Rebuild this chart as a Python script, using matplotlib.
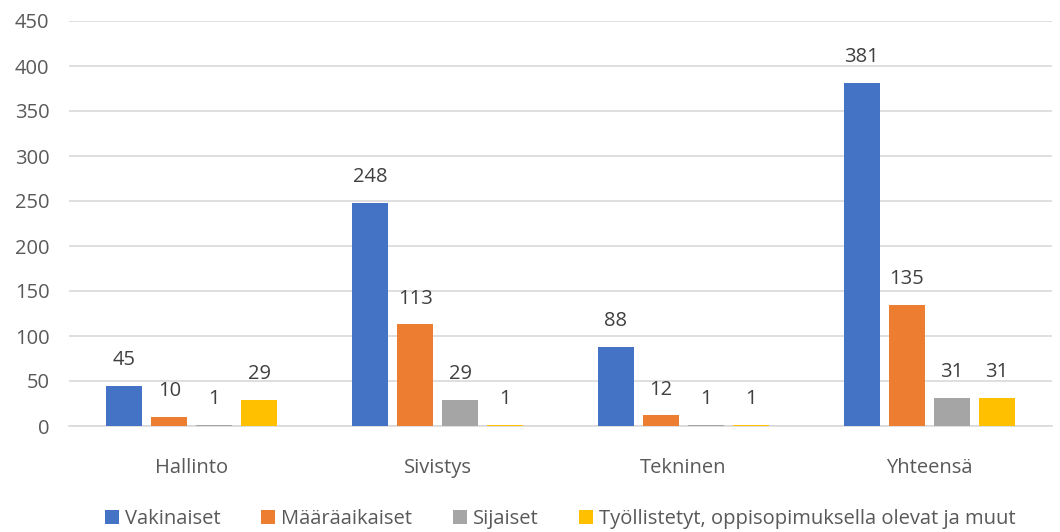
import matplotlib
matplotlib.use("Agg")
import matplotlib.pyplot as plt
import numpy as np

categories = ["Hallinto", "Sivistys", "Tekninen", "Yhteensä"]
series_names = ["Vakinaiset", "Määräaikaiset", "Sijaiset",
                "Työllistetyt, oppisopimuksella olevat ja muut"]
vakinaiset = [45, 248, 88, 381]
maaraaikaiset = [10, 113, 12, 135]
sijaiset = [1, 29, 1, 31]
tyollistetyt = [29, 1, 1, 31]
yticks = [0, 50, 100, 150, 200, 250, 300, 350, 400, 450]

colors = ["#4472C4", "#ED7D31", "#A5A5A5", "#FFC000"]
text_c = "#595959"

plt.rcParams["font.family"] = ["Open Sans", "DejaVu Sans"]

fig = plt.figure(figsize=(10.6, 5.32), dpi=100)
ax = fig.add_axes([69 / 1060, 106 / 532, (1052 - 69) / 1060, (426 - 21) / 532])

x = np.arange(len(categories))
width = 36 / 245.75
step = 45 / 245.75
all_series = [vakinaiset, maaraaikaiset, sijaiset, tyollistetyt]
for i, (vals, name, c) in enumerate(zip(all_series, series_names, colors)):
    pos = x + (i - 1.5) * step
    bars = ax.bar(pos, vals, width, color=c, label=name, zorder=3)
    for b, v in zip(bars, vals):
        ax.annotate(str(v), (b.get_x() + b.get_width() / 2, v),
                    xytext=(0, 18.5), textcoords="offset points",
                    ha="center", va="center", fontsize=14.5, color="#404040")

ax.set_xlim(-0.5, len(categories) - 0.5)
ax.set_ylim(0, 450)
ax.set_yticks(yticks)
ax.set_xticks(x)
ax.set_xticklabels(categories)
ax.grid(axis="y", color="#D9D9D9", lw=1.2, zorder=0)
for s in ["top", "right", "left"]:
    ax.spines[s].set_visible(False)
ax.spines["bottom"].set_color("#D9D9D9")
ax.spines["bottom"].set_linewidth(1.2)
ax.tick_params(axis="both", length=0, labelsize=14.5, colors=text_c)
ax.tick_params(axis="x", pad=23)
ax.tick_params(axis="y", pad=14)

ax.legend(loc="lower center", bbox_to_anchor=(0.5, -0.3), ncol=4, frameon=False,
          fontsize=14.5, handlelength=0.7, handleheight=0.7, handletextpad=0.3,
          columnspacing=2.0, labelcolor=text_c)

fig.savefig("out.png", dpi=100)
